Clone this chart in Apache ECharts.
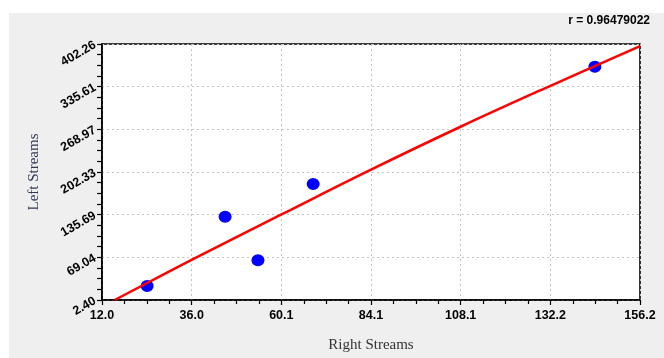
<!DOCTYPE html>
<html>
<head>
<meta charset="utf-8">
<script src="https://cdn.jsdelivr.net/npm/echarts@6/dist/echarts.min.js"></script>
<style>html,body{margin:0;padding:0;background:#fff}#c{width:664px;height:358px}</style>
</head>
<body>
<div id="c"></div>
<script>
// Tick labels
const xTickLabels = ['12.0', '36.0', '60.1', '84.1', '108.1', '132.2', '156.2'];
const yTickLabels = ['2.40', '69.04', '135.69', '202.33', '268.97', '335.61', '402.26'];
const xMin = 12.0, xMax = 156.2;
const yMin = 2.40, yMax = 402.26;

// Scatter points (Right Streams, Left Streams)
const pointsX = [24.1, 45.0, 53.8, 68.6, 144.1];
const pointsY = [24.1, 132.6, 64.4, 183.7, 366.6];

// Fitted curve
const fitX = [15.4, 36.0, 60.1, 84.1, 108.1, 132.2, 156.2];
const fitY = [2.4, 65.0, 136.0, 206.0, 273.0, 337.0, 399.0];

const rText = 'r = 0.96479022';

// Map values onto 0..6 index axes so ticks land on the original labels
const nx = v => (v - xMin) / (xMax - xMin) * 6;
const ny = v => (v - yMin) / (yMax - yMin) * 6;

const chart = echarts.init(document.getElementById('c'), null, {renderer: 'canvas'});
chart.setOption({
  animation: false,
  backgroundColor: '#ffffff',
  graphic: [
    {type: 'rect', z: -10, shape: {x: 9, y: 13, width: 664 - 9, height: 358 - 13}, style: {fill: '#efefef'}},
    {type: 'text', right: 14, top: 15, style: {text: rText, font: 'bold 12px "Liberation Sans", Arial, sans-serif', fill: '#000'}}
  ],
  grid: {left: 102, top: 44, right: 24, bottom: 56, show: true, backgroundColor: '#ffffff', borderColor: '#000', borderWidth: 1.6},
  xAxis: {
    type: 'value', min: 0, max: 6, interval: 1,
    name: 'Right Streams', nameLocation: 'middle', nameGap: 38,
    nameTextStyle: {fontFamily: '"Liberation Serif", "Times New Roman", serif', fontSize: 15, color: '#333'},
    axisLine: {show: true, onZero: false, lineStyle: {color: '#000', width: 1.6}},
    axisTick: {show: true, inside: false, length: 5, lineStyle: {color: '#000', width: 1.2}},
    minorTick: {show: true, splitNumber: 4, length: 4, lineStyle: {color: '#000', width: 1.2}},
    axisLabel: {margin: 9, formatter: v => xTickLabels[Math.round(v)], fontFamily: '"Liberation Sans", Arial, sans-serif', fontWeight: 'bold', fontSize: 12.5, color: '#000'},
    splitLine: {show: true, lineStyle: {color: '#c4c4c4', type: [2, 3], width: 1}}
  },
  yAxis: {
    type: 'value', min: 0, max: 6, interval: 1,
    name: 'Left Streams', nameLocation: 'middle', nameGap: 60, nameRotate: 90,
    nameTextStyle: {fontFamily: '"Liberation Serif", "Times New Roman", serif', fontSize: 15, color: '#2e3b55'},
    axisLine: {show: true, onZero: false, lineStyle: {color: '#000', width: 1.6}},
    axisTick: {show: true, inside: false, length: 5, lineStyle: {color: '#000', width: 1.2}},
    minorTick: {show: true, splitNumber: 4, length: 5, lineStyle: {color: '#000', width: 1.2}},
    axisLabel: {margin: 7, rotate: 30, formatter: v => yTickLabels[Math.round(v)], fontFamily: '"Liberation Sans", Arial, sans-serif', fontWeight: 'bold', fontSize: 12.5, color: '#000'},
    splitLine: {show: true, lineStyle: {color: '#c4c4c4', type: [2, 3], width: 1}}
  },
  series: [
    {
      type: 'scatter', z: 2,
      symbol: 'circle', symbolSize: [13, 12],
      itemStyle: {color: '#0000ff', opacity: 1},
      data: pointsX.map((x, i) => [nx(x), ny(pointsY[i])])
    },
    {
      type: 'line', z: 3, smooth: 0.4, showSymbol: false, clip: true,
      lineStyle: {color: '#ff0000', width: 2.5},
      data: fitX.map((x, i) => [nx(x), ny(fitY[i])])
    }
  ]
});
</script>
</body>
</html>
